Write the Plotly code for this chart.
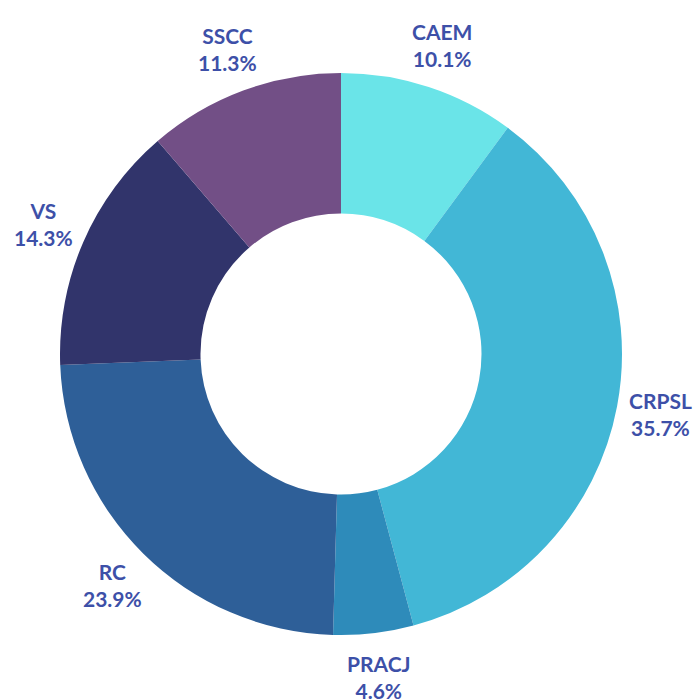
import math
import plotly.graph_objects as go

labels = ["CAEM", "CRPSL", "PRACJ", "RC", "VS", "SSCC"]
values = [10.1, 35.7, 4.6, 23.9, 14.3, 11.3]
colors = ["#6AE4E8", "#42B7D6", "#2E8BBA", "#2E5F98", "#31346B", "#724F86"]

fig = go.Figure(go.Pie(
    labels=labels,
    values=values,
    hole=0.5,
    sort=False,
    direction="clockwise",
    rotation=0,
    marker=dict(colors=colors, line=dict(width=0)),
    textinfo="none",
    showlegend=False,
    hoverinfo="label+percent",
))

# outside labels placed along each slice's mid-angle
total = sum(values)
label_r = 0.578  # in plot-area units (pie outer radius = 0.5)
cum = 0.0
for lab, v in zip(labels, values):
    mid = (cum + v / 2) / total * 2 * math.pi
    cum += v
    fig.add_annotation(
        x=0.5 + label_r * math.sin(mid),
        y=0.5 + label_r * math.cos(mid),
        xref="paper", yref="paper",
        text=f"{lab}<br>{v:.1f}%",
        showarrow=False,
        xanchor="center", yanchor="middle",
        font=dict(family="Lato", size=21, color="#3D50A8", weight="bold"),
    )

fig.update_layout(
    width=696, height=700,
    margin=dict(l=60, r=74, t=73, b=65),
    paper_bgcolor="white",
    plot_bgcolor="white",
)
fig.write_html("out.html")
